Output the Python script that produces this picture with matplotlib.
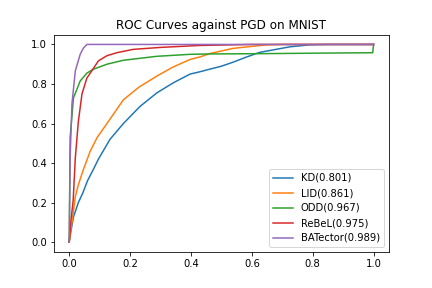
import matplotlib
matplotlib.use("Agg")
import matplotlib.pyplot as plt

# ROC points (false positive rate, true positive rate)
kd_fpr = [0.0, 0.005, 0.014, 0.03, 0.045, 0.06, 0.08, 0.096, 0.134, 0.178, 0.233,
          0.288, 0.342, 0.397, 0.43, 0.462, 0.5, 0.538, 0.58, 0.626, 0.725, 0.79, 0.85, 1.0]
kd_tpr = [0.0, 0.05, 0.127, 0.2, 0.25, 0.31, 0.37, 0.42, 0.52, 0.6, 0.687,
          0.755, 0.806, 0.85, 0.862, 0.875, 0.89, 0.91, 0.935, 0.96, 0.988, 0.998, 1.0, 1.0]

lid_fpr = [0.0, 0.005, 0.01, 0.02, 0.03, 0.046, 0.069, 0.092, 0.124, 0.178, 0.23,
           0.288, 0.34, 0.397, 0.43, 0.462, 0.538, 0.648, 0.7, 1.0]
lid_tpr = [0.0, 0.06, 0.11, 0.23, 0.29, 0.365, 0.46, 0.53, 0.6, 0.72, 0.785,
           0.84, 0.885, 0.924, 0.937, 0.954, 0.98, 0.998, 1.0, 1.0]

odd_fpr = [0.0, 0.003, 0.014, 0.036, 0.058, 0.08, 0.124, 0.178, 0.288, 0.397,
           0.462, 0.6, 0.75, 0.9, 0.997, 1.0]
odd_tpr = [0.0, 0.53, 0.73, 0.815, 0.855, 0.875, 0.9, 0.92, 0.94, 0.95,
           0.952, 0.953, 0.955, 0.957, 0.958, 1.0]

rebel_fpr = [0.0, 0.005, 0.013, 0.02, 0.03, 0.042, 0.058, 0.074, 0.096, 0.124,
             0.156, 0.21, 0.3, 0.43, 0.6, 1.0]
rebel_tpr = [0.0, 0.1, 0.21, 0.426, 0.61, 0.75, 0.83, 0.866, 0.917, 0.943,
             0.958, 0.975, 0.985, 0.995, 1.0, 1.0]

bat_fpr = [0.0, 0.003, 0.009, 0.02, 0.036, 0.046, 0.058, 1.0]
bat_tpr = [0.0, 0.426, 0.7, 0.866, 0.95, 0.98, 1.0, 1.0]

labels = ["KD(0.801)", "LID(0.861)", "ODD(0.967)", "ReBeL(0.975)", "BATector(0.989)"]

fig, ax = plt.subplots(figsize=(6, 4), dpi=72)
fig.subplots_adjust(bottom=0.125)

ax.plot(kd_fpr, kd_tpr, label=labels[0])
ax.plot(lid_fpr, lid_tpr, label=labels[1])
ax.plot(odd_fpr, odd_tpr, label=labels[2])
ax.plot(rebel_fpr, rebel_tpr, label=labels[3])
ax.plot(bat_fpr, bat_tpr, label=labels[4])

ax.set_title("ROC Curves against PGD on MNIST")
ax.legend(loc="lower right")

fig.savefig("out.png")
